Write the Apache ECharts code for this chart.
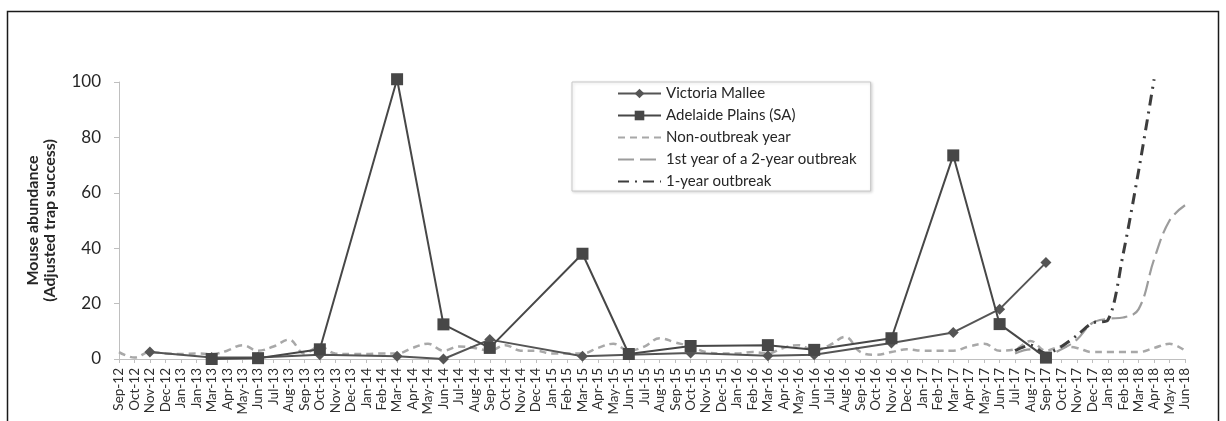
<!DOCTYPE html>
<html>
<head>
<meta charset="utf-8">
<script src="https://cdn.jsdelivr.net/npm/echarts@6/dist/echarts.min.js"></script>
<style>
  html, body { margin: 0; padding: 0; background: #fff; }
  #chart { width: 1226px; height: 421px; }
</style>
</head>
<body>
<div id="chart"></div>
<script>
// Monthly sampling periods
const months = [
  'Sep-12','Oct-12','Nov-12','Dec-12','Jan-13','Jan-13','Mar-13','Apr-13','May-13','Jun-13','Jul-13','Aug-13',
  'Sep-13','Oct-13','Nov-13','Dec-13','Jan-14','Feb-14','Mar-14','Apr-14','May-14','Jun-14','Jul-14','Aug-14',
  'Sep-14','Oct-14','Nov-14','Dec-14','Jan-15','Feb-15','Mar-15','Apr-15','May-15','Jun-15','Jul-15','Aug-15',
  'Sep-15','Oct-15','Nov-15','Dec-15','Jan-16','Feb-16','Mar-16','Apr-16','May-16','Jun-16','Jul-16','Aug-16',
  'Sep-16','Oct-16','Nov-16','Dec-16','Jan-17','Feb-17','Mar-17','Apr-17','May-17','Jun-17','Jul-17','Aug-17',
  'Sep-17','Oct-17','Nov-17','Dec-17','Jan-18','Feb-18','Mar-18','Apr-18','May-18','Jun-18'
];

// Field trapping (null = no survey that month)
const victoriaMallee = [
  null, null, 2.5, null, null, null, 0.5, null, null, 0.5, null, null,
  null, 1.5, null, null, null, null, 1, null, null, 0, null, null,
  7, null, null, null, null, null, 1, null, null, 1.5, null, null,
  null, 2.2, null, null, null, null, 1.2, null, null, 1.5, null, null,
  null, null, 5.8, null, null, null, 9.6, null, null, 18, null, null,
  34.8, null, null, null, null, null, null, null, null, null
];
const adelaidePlains = [
  null, null, null, null, null, null, 0, null, null, 0.3, null, null,
  null, 3.5, null, null, null, null, 101, null, null, 12.5, null, null,
  4, null, null, null, null, null, 38, null, null, 1.8, null, null,
  null, 4.7, null, null, null, null, 5, null, null, 3.3, null, null,
  null, null, 7.5, null, null, null, 73.5, null, null, 12.6, null, null,
  0.5, null, null, null, null, null, null, null, null, null
];

// Modelled scenarios
const nonOutbreak = [
  2.5, 0.5, 2.5, 2, 1.8, 2, 1.8, 3, 5, 3, 4.5, 7,
  2, 4.5, 2, 1.8, 1.8, 2, 2, 4, 5.5, 3, 4.5, 4,
  3, 5, 3, 3, 2, 2, 2, 4, 5.5, 3, 4.5, 7.5,
  6, 4.5, 2.5, 2, 2, 2.5, 2, 4, 5, 3, 5, 8,
  2.5, 1.5, 2.5, 3.5, 3, 3, 3, 4.5, 5.5, 3, 3.5, 6.5,
  3, 4.5, 4, 2.5, 2.5, 2.5, 2.5, 4, 5.5, 3
];
const firstYearOfTwo = [
  null, null, null, null, null, null, null, null, null, null, null, null,
  null, null, null, null, null, null, null, null, null, null, null, null,
  null, null, null, null, null, null, null, null, null, null, null, null,
  null, null, null, null, null, null, null, null, null, null, null, null,
  null, null, null, null, null, null, null, null, null, null, 2, 3.5,
  1.5, 3.5, 7, 13, 14.5, 15, 18, 36, 50, 55.5
];
const oneYearOutbreak = [
  null, null, null, null, null, null, null, null, null, null, null, null,
  null, null, null, null, null, null, null, null, null, null, null, null,
  null, null, null, null, null, null, null, null, null, null, null, null,
  null, null, null, null, null, null, null, null, null, null, null, null,
  null, null, null, null, null, null, null, null, null, null, 3, 5,
  2, 4.5, 8.5, 13, 14, 38, 68, 101, null, null
];

const yTicks = { min: 0, max: 100, interval: 20 };
const FONT = 'Lato, "Open Sans", sans-serif';

const chart = echarts.init(document.getElementById('chart'), null, { renderer: 'canvas' });

// legend entries for the plain line styles carry no marker
const noMarker = { opacity: 0 };

chart.setOption({
  animation: false,
  backgroundColor: '#ffffff',
  textStyle: { fontFamily: FONT },
  graphic: [{
    type: 'rect',
    shape: { x: 7.5, y: 11.5, width: 1211, height: 430 },
    style: { fill: 'none', stroke: '#1a1a1a', lineWidth: 1.5 },
    silent: true, z: -1
  }],
  grid: { left: 119, right: 41, top: 82, bottom: 62 },
  legend: {
    orient: 'vertical',
    left: 572, top: 82,
    padding: [4, 14, 2, 45],
    itemWidth: 43, itemHeight: 12, itemGap: 7,
    borderColor: '#c8c8c8', borderWidth: 1,
    shadowColor: 'rgba(0,0,0,0.15)', shadowBlur: 3, shadowOffsetX: 1, shadowOffsetY: 1,
    backgroundColor: '#fff',
    textStyle: { fontFamily: FONT, fontSize: 15, color: '#262626' },
    data: [
      { name: 'Victoria Mallee' },
      { name: 'Adelaide Plains (SA)' },
      { name: 'Non-outbreak year', itemStyle: noMarker },
      { name: '1st year of a 2-year outbreak', itemStyle: noMarker },
      { name: '1-year outbreak', itemStyle: noMarker }
    ]
  },
  xAxis: {
    type: 'category',
    data: months,
    boundaryGap: false,
    axisLine: { lineStyle: { color: '#bfbfbf', width: 1 } },
    axisTick: { show: true, interval: 0, length: 4, lineStyle: { color: '#bfbfbf' } },
    axisLabel: { interval: 0, rotate: 90, fontSize: 13.5, color: '#2e2e2e', margin: 9, fontFamily: FONT },
    splitLine: { show: false }
  },
  yAxis: {
    type: 'value',
    min: yTicks.min, max: yTicks.max, interval: yTicks.interval,
    name: 'Mouse abundance\n(Adjusted trap success)',
    nameLocation: 'middle',
    nameRotate: 90,
    nameGap: 61,
    nameTextStyle: { fontFamily: FONT, fontSize: 16, fontWeight: 'bold', color: '#262626', lineHeight: 17 },
    axisLine: { show: true, lineStyle: { color: '#bfbfbf', width: 1 } },
    axisTick: { show: true, length: 5, lineStyle: { color: '#bfbfbf' } },
    axisLabel: { fontSize: 17, color: '#262626', margin: 18, fontFamily: FONT },
    splitLine: { show: false }
  },
  series: [
    {
      name: 'Victoria Mallee',
      type: 'line',
      data: victoriaMallee,
      connectNulls: true,
      clip: false,
      symbol: 'diamond', symbolSize: 11,
      lineStyle: { color: '#555555', width: 2 },
      itemStyle: { color: '#555555' },
      z: 4
    },
    {
      name: 'Adelaide Plains (SA)',
      type: 'line',
      data: adelaidePlains,
      connectNulls: true,
      clip: false,
      symbol: 'rect', symbolSize: 12,
      lineStyle: { color: '#474747', width: 2 },
      itemStyle: { color: '#474747' },
      z: 5
    },
    {
      name: 'Non-outbreak year',
      type: 'line',
      data: nonOutbreak,
      smooth: 0.4,
      clip: false,
      showSymbol: false, symbol: 'none',
      lineStyle: { color: '#a8a8a8', width: 2.5, type: [7, 5] },
      itemStyle: { color: '#a8a8a8' },
      z: 2
    },
    {
      name: '1st year of a 2-year outbreak',
      type: 'line',
      data: firstYearOfTwo,
      smooth: 0.4,
      clip: false,
      showSymbol: false, symbol: 'none',
      lineStyle: { color: '#9c9c9c', width: 2.2, type: [16, 6] },
      itemStyle: { color: '#9c9c9c' },
      z: 3
    },
    {
      name: '1-year outbreak',
      type: 'line',
      data: oneYearOutbreak,
      smooth: 0.3,
      clip: false,
      showSymbol: false, symbol: 'none',
      lineStyle: { color: '#3d3d3d', width: 3, type: [11, 6, 2, 6] },
      itemStyle: { color: '#3d3d3d' },
      z: 3
    }
  ]
});
</script>
</body>
</html>
